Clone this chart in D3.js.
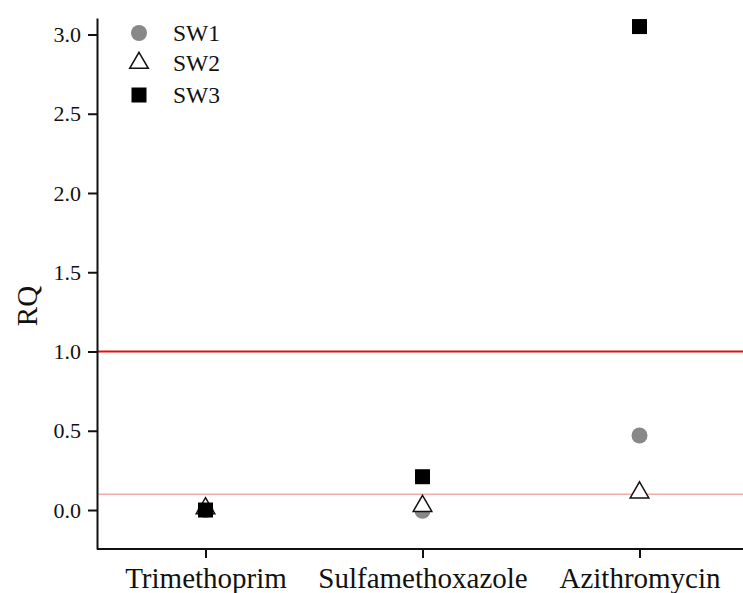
<!DOCTYPE html>
<html><head><meta charset="utf-8">
<script src="https://cdn.jsdelivr.net/npm/d3@7/dist/d3.min.js"></script>
<style>body{margin:0;background:#fff}svg{display:block}text{font-family:"Liberation Serif","Times New Roman",serif;fill:#111}</style>
</head><body><svg id="c" width="743" height="593"></svg>
<script>
const categories = ["Trimethoprim", "Sulfamethoxazole", "Azithromycin"];
const seriesNames = ["SW1", "SW2", "SW3"];
const sw1 = [0.0, -0.005, 0.47];
const sw2 = [0.01, 0.025, 0.11];
const sw3 = [0.0, 0.21, 3.05];
const yTicks = [0.0, 0.5, 1.0, 1.5, 2.0, 2.5, 3.0];
const refLines = [1.0, 0.1];

const svg = d3.select("#c");
const x = d3.scalePoint().domain(categories).range([97, 748]).padding(0.5);
const y = d3.scaleLinear().domain([-0.246, 3.104]).range([549, 18]);

// reference lines
svg.append("line").attr("x1", 97).attr("x2", 743).attr("y1", y(refLines[1])).attr("y2", y(refLines[1]))
  .attr("stroke", "#f08080").attr("stroke-width", 1);
svg.append("line").attr("x1", 97).attr("x2", 743).attr("y1", y(refLines[0])).attr("y2", y(refLines[0]))
  .attr("stroke", "#e01010").attr("stroke-width", 2);

// axes
const ya = svg.append("g").attr("transform", "translate(97,0)")
  .call(d3.axisLeft(y).tickValues(yTicks).tickFormat(d3.format(".1f")).tickSize(9).tickSizeOuter(0));
ya.select(".domain").attr("stroke", "#111").attr("stroke-width", 2);
ya.selectAll(".tick line").attr("stroke", "#111").attr("stroke-width", 2);
ya.selectAll(".tick text").attr("font-size", 22).attr("x", -16).style("font-family", '"Liberation Serif",serif').attr("fill", "#222");

const xa = svg.append("g").attr("transform", "translate(0,549)")
  .call(d3.axisBottom(x).tickSize(9).tickSizeOuter(0));
xa.select(".domain").attr("d", "M97,0H743").attr("stroke", "#111").attr("stroke-width", 2);
xa.selectAll(".tick line").attr("stroke", "#111").attr("stroke-width", 2);
xa.selectAll(".tick text").attr("font-size", 29).attr("y", 18).style("font-family", '"Liberation Serif",serif').attr("fill", "#111");

svg.append("text").attr("transform", "translate(37,306) rotate(-90)").attr("text-anchor", "middle")
  .attr("font-size", 29).text("RQ");

// markers
const circ = d3.symbol().type(d3.symbolCircle).size(Math.PI * 8 * 8);
const tri = d3.symbol().type(d3.symbolTriangle).size(150);
const sq = d3.symbol().type(d3.symbolSquare).size(15 * 15);

function draw(vals, gen, fill, stroke) {
  svg.append("g").selectAll("path").data(vals).join("path")
    .attr("transform", (d, i) => `translate(${x(categories[i])},${y(d)})`)
    .attr("d", gen).attr("fill", fill).attr("stroke", stroke).attr("stroke-width", 1.5);
}
draw(sw1, circ, "#888", "none");
draw(sw2, tri, "#fff", "#111");
draw(sw3, sq, "#000", "none");

// legend
const lg = svg.append("g");
const gens = [circ, tri, sq], fills = ["#888", "#fff", "#000"], strokes = ["none", "#111", "none"];
const ly = [33, 63, 95];
seriesNames.forEach((n, i) => {
  lg.append("path").attr("transform", `translate(139,${ly[i]})`).attr("d", gens[i])
    .attr("fill", fills[i]).attr("stroke", strokes[i]).attr("stroke-width", 1.5);
  lg.append("text").attr("x", 173).attr("y", ly[i] + 8).attr("font-size", 23.5).text(n);
});
</script></body></html>
